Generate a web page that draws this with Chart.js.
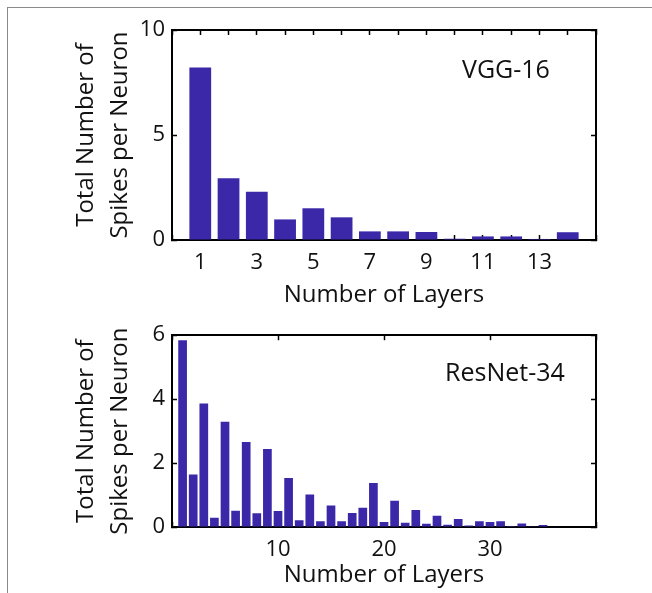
<!DOCTYPE html>
<html>
<head>
<meta charset="utf-8">
<script src="https://cdn.jsdelivr.net/npm/chart.js@4.4.1/dist/chart.umd.min.js"></script>
<style>
  html, body { margin: 0; padding: 0; background: #fff; }
  #page { position: relative; width: 652px; height: 593px; overflow: hidden; font-family: 'Open Sans', sans-serif; }
  #frame { position: absolute; left: 7px; top: 7px; right: -2px; bottom: -2px; border-left: 1.5px solid #8a8a8a; border-top: 1.5px solid #8a8a8a; }
  canvas { position: absolute; left: 0; }
  .net { position: absolute; font-size: 25px; line-height: 25px; color: #111; white-space: nowrap; }
</style>
</head>
<body>
<div id="page">
  <div id="frame"></div>
  <canvas id="vggChart" width="652" height="310" style="top:0"></canvas>
  <canvas id="resnetChart" width="652" height="283" style="top:310px"></canvas>
  <div class="net" style="left:462px; top:56px">VGG-16</div>
  <div class="net" style="left:445px; top:359px">ResNet-34</div>
</div>
<script>
// Data
const vggLayers = [1, 2, 3, 4, 5, 6, 7, 8, 9, 10, 11, 12, 13, 14];
const vggSpikes = [8.22, 2.94, 2.30, 0.98, 1.51, 1.08, 0.41, 0.41, 0.38, 0.06, 0.17, 0.17, 0.05, 0.37];
const vggXLabels = [1, 3, 5, 7, 9, 11, 13];
const vggYTicks = [0, 5, 10];

const resnetLayers = [1, 2, 3, 4, 5, 6, 7, 8, 9, 10, 11, 12, 13, 14, 15, 16, 17, 18,
    19, 20, 21, 22, 23, 24, 25, 26, 27, 28, 29, 30, 31, 32, 33, 34, 35];
const resnetSpikes = [5.84, 1.64, 3.86, 0.29, 3.29, 0.51, 2.66, 0.43, 2.44, 0.50, 1.53, 0.21,
    1.02, 0.18, 0.67, 0.18, 0.44, 0.60, 1.38, 0.16, 0.82, 0.13, 0.53, 0.10, 0.35, 0.07,
    0.25, 0.05, 0.18, 0.16, 0.18, 0.03, 0.11, 0.02, 0.06];
const resnetXLabels = [10, 20, 30];
const resnetYTicks = [0, 2, 4, 6];

const barColor = '#3a28a9';
const textColor = '#111';
const fontFamily = "'Open Sans', sans-serif";

// inward tick marks, like the matlab style axes
function tickGrid() {
    return { display: true, drawOnChartArea: false, drawTicks: true, tickLength: -5,
             tickColor: '#000', tickWidth: 1.5, offset: false };
}
function axisBorder() {
    return { display: true, color: '#000', width: 2 };
}

function buildChart(canvasId, layers, spikes, cfg) {
    return new Chart(document.getElementById(canvasId), {
        type: 'bar',
        data: {
            datasets: [{
                data: layers.map((x, i) => ({ x: x, y: spikes[i] })),
                backgroundColor: barColor,
                borderWidth: 0,
                barPercentage: cfg.barPct,
                categoryPercentage: 1
            }]
        },
        options: {
            responsive: false,
            animation: false,
            layout: { padding: { top: cfg.padTop, right: 56, left: 0, bottom: 0 } },
            plugins: { legend: { display: false }, tooltip: { enabled: false } },
            scales: {
                x: {
                    type: 'linear', position: 'bottom', min: 0, max: cfg.xMax, offset: false,
                    grid: tickGrid(), border: axisBorder(),
                    ticks: {
                        stepSize: cfg.xStep, autoSkip: false, maxRotation: 0, padding: 14.5,
                        color: textColor, font: { family: fontFamily, size: 22 },
                        callback: v => cfg.xLabels.includes(v) ? String(v) : ''
                    },
                    title: {
                        display: true, text: 'Number of Layers', color: textColor,
                        font: { family: fontFamily, size: 24, lineHeight: 1.2 },
                        padding: { top: 0, bottom: cfg.titlePad }
                    },
                    afterFit: s => { s.height = cfg.xHeight; }
                },
                x2: {
                    type: 'linear', position: 'top', min: 0, max: cfg.xMax, offset: false,
                    grid: tickGrid(), border: axisBorder(),
                    ticks: { display: false, stepSize: cfg.xStep },
                    afterFit: s => { s.height = 0; }
                },
                y: {
                    type: 'linear', position: 'left', min: 0, max: cfg.yMax,
                    grid: tickGrid(), border: axisBorder(),
                    afterBuildTicks: s => { s.ticks = cfg.yTicks.map(v => ({ value: v })); },
                    ticks: { padding: 12, color: textColor, font: { family: fontFamily, size: 22 } },
                    title: {
                        display: true, text: ['Total Number of', 'Spikes per Neuron'], color: textColor,
                        font: { family: fontFamily, size: 24, lineHeight: 1.42 },
                        padding: { top: 69, bottom: 0 }
                    },
                    afterFit: s => { s.width = 172; }
                },
                y2: {
                    type: 'linear', position: 'right', min: 0, max: cfg.yMax,
                    grid: tickGrid(), border: axisBorder(),
                    afterBuildTicks: s => { s.ticks = cfg.yTicks.map(v => ({ value: v })); },
                    ticks: { display: false },
                    afterFit: s => { s.width = 0; }
                }
            }
        }
    });
}

buildChart('vggChart', vggLayers, vggSpikes, {
    xMax: 15, xStep: 1, xLabels: vggXLabels, yMax: 10, yTicks: vggYTicks,
    barPct: 0.77, padTop: 30, xHeight: 70, titlePad: 0
});

buildChart('resnetChart', resnetLayers, resnetSpikes, {
    xMax: 40, xStep: 10, xLabels: resnetXLabels, yMax: 6, yTicks: resnetYTicks,
    barPct: 0.82, padTop: 13, xHeight: 66, titlePad: 3
});
</script>
</body>
</html>
